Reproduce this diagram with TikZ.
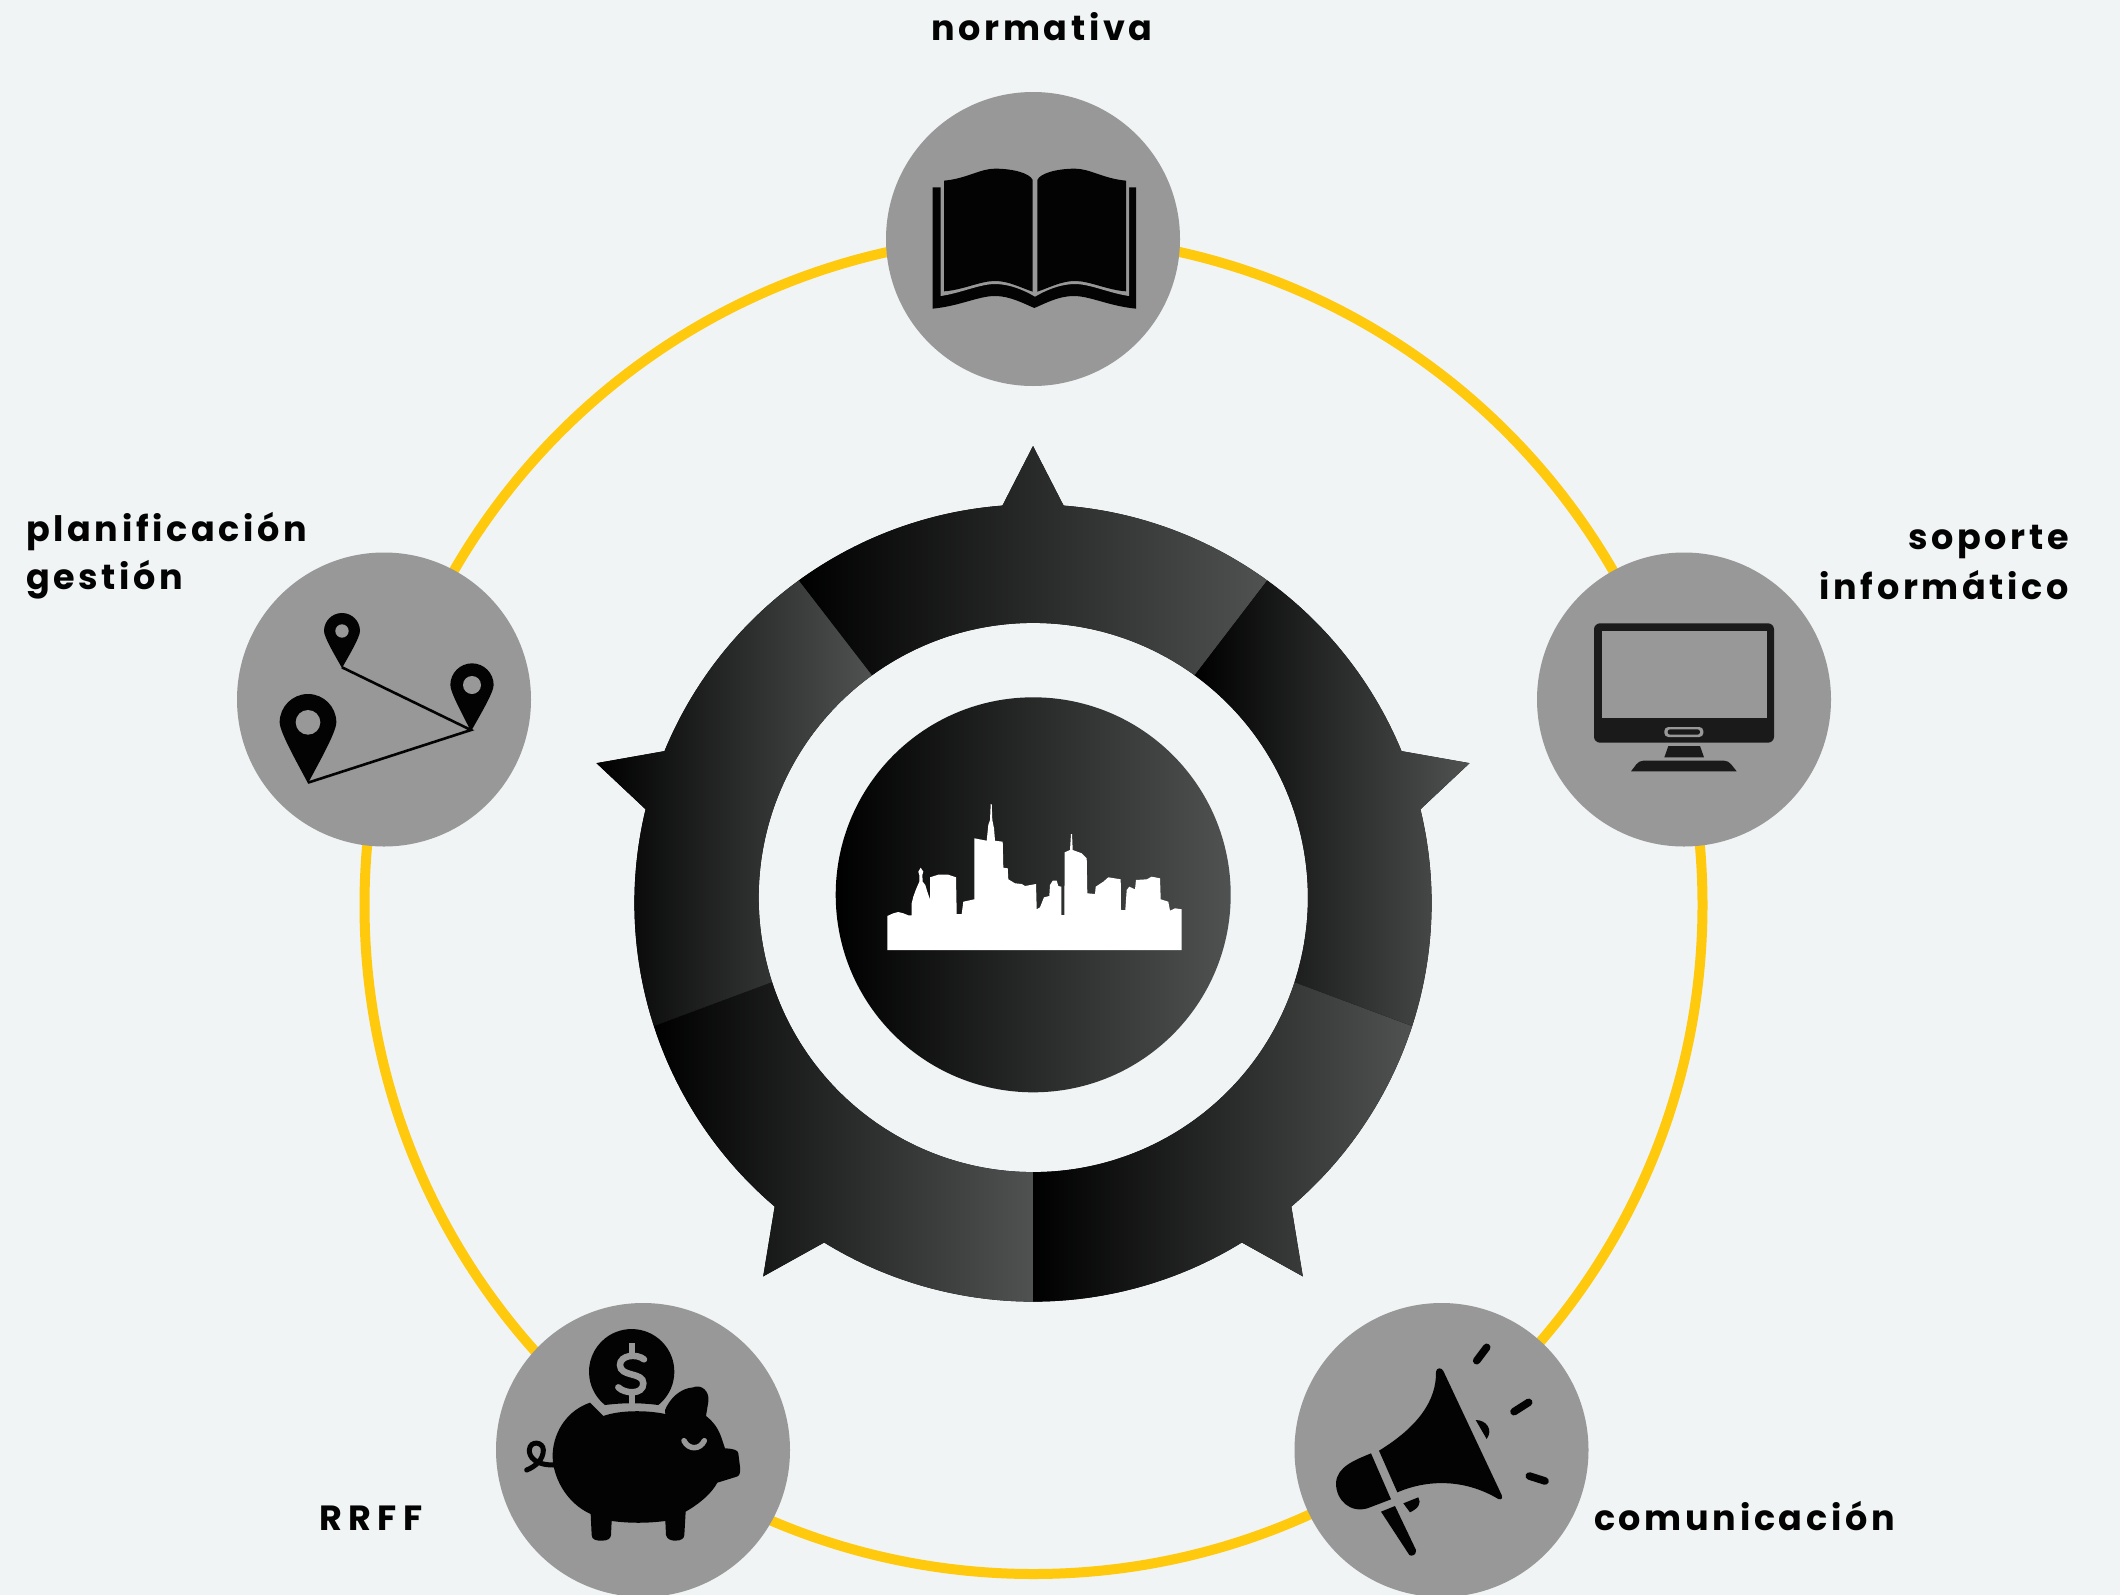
\documentclass[tikz,border=0pt]{standalone}
\usepackage{fontspec}
\setmainfont{Poppins}
\newfontfamily\labfont[LetterSpace=10.5,BoldFont={Poppins Bold}]{Poppins}
\newfontfamily\labwide[LetterSpace=19,BoldFont={Poppins Bold}]{Poppins}
\usetikzlibrary{calc}
\definecolor{bgc}{HTML}{F0F4F5}
\definecolor{hubgray}{HTML}{989898}
\definecolor{ringyellow}{HTML}{FFC90E}
\definecolor{monblack}{HTML}{1A1A1A}
\definecolor{iconblack}{HTML}{030303}
\definecolor{gradend}{HTML}{505252}
\tikzset{
  hub/.style={circle,fill=hubgray,minimum size=294pt,inner sep=0pt,outer sep=0pt},
  lab/.style={font=\labfont\bfseries\fontsize{35}{50}\selectfont,text=iconblack,inner sep=0pt,outer sep=0pt},
  iconscope/.style={x=0.33333pt,y=-0.33333pt},
  dash stroke/.style={draw=iconblack,line width=7.6pt,line cap=round},
}
\newcommand{\mappin}[6]{% cx cy R tipx tipy hole
  \pgfmathsetmacro{\pxa}{#1-#3}
  \pgfmathsetmacro{\pxb}{#1+#3}
  \pgfmathsetmacro{\pya}{#2+0.35*#3}
  \pgfmathsetmacro{\pcl}{#4+0.4*(#1-0.88*#3-#4)}
  \pgfmathsetmacro{\pcr}{#4+0.4*(#1+0.88*#3-#4)}
  \pgfmathsetmacro{\pyb}{#5+0.4*(#2+0.47*#3-#5)}
  \fill[iconblack] (\pxa,#2) arc[start angle=180,end angle=360,radius=#3]
     .. controls (\pxb,\pya) and (\pcr,\pyb) .. (#4,#5)
     .. controls (\pcl,\pyb) and (\pxa,\pya) .. (\pxa,#2) -- cycle;
  \fill[hubgray] (#1,#2) circle[radius=#6];
}
\begin{document}
\begin{tikzpicture}[x=1pt,y=-1pt]
\useasboundingbox (0,0) rectangle (2120,1595);
\fill[bgc] (0,0) rectangle (2120,1595);
% yellow ring
\coordinate (ringc) at (1033.5,905);
\draw[ringyellow,line width=10pt] (ringc) circle[radius=669];
% hubs
\node[hub] (hubtop) at (1033,239) {};
\node[hub] (hubleft) at (384,699.5) {};
\node[hub] (hubright) at (1684,699.5) {};
\node[hub] (hubbl) at (643,1450) {};
\node[hub] (hubbr) at (1441.5,1450) {};
% labels
\node[lab,anchor=base] (labtop) at (1042,41) {normativa};
\node[lab,anchor=north west,align=left] (lableft) at (26,512) {planificación\\[-2pt]gestión};
\node[lab,anchor=north east,align=right] (labright) at (2069,525) {soporte\\informático};
\node[lab,font=\labwide\bfseries\fontsize{35}{50}\selectfont,anchor=base west] (labbl) at (319,1530) {RRFF};
\node[lab,anchor=base west] (labbr) at (1594,1530) {comunicación};
% gear ring
\coordinate (O) at (1033,903);
\coordinate (I) at (1033.3,897.5);
\coordinate (T) at (1033,905);
\newcommand{\ROut}{398.6}\newcommand{\RIn}{274.6}\newcommand{\RTip}{459}\newcommand{\Sp}{4.4}
% segments: start angle a, spike at a+36, end a+72
\newcommand{\seg}[1]{%
  \pgfmathsetmacro{\segb}{#1+72}
  \pgfmathsetmacro{\segm}{#1+36}
  \pgfmathsetmacro{\sega}{#1+36-\Sp}
  \pgfmathsetmacro{\segc}{#1+36+\Sp}
  \fill[left color=black,right color=gradend]
    ($(O)+(#1:\ROut)$) arc[start angle=#1,end angle=\sega,radius=\ROut]
    -- ($(T)+(\segm:\RTip)$) -- ($(O)+(\segc:\ROut)$)
    arc[start angle=\segc,end angle=\segb,radius=\ROut]
    -- ($(I)+(\segb:\RIn)$)
    arc[start angle=\segb,end angle=#1,radius=\RIn] -- cycle;
}
\seg{234}
\seg{162}
\seg{306}
\seg{90}
\seg{18}
% centre disc
\node[circle,minimum size=395pt,inner sep=0pt,outer sep=0pt,left color=black,right color=gradend] (disc) at (1033.2,894.8) {};
% skyline (picture coordinates)
\fill[white] (887.3,950)--(887.3,916)--(893.3,913.3)--(898.3,912)--(903.3,913.3)--(908.3,915.3)--(911.7,915.3)--(911.7,903.3)--(913.3,896.7)--(916,889.3)--(918.3,884)--(919.3,881.7)--(919.3,875)--(918.3,871.7)--(920.7,867.7)--(923.3,871.7)--(922.3,875)--(922.7,881.7)--(925.3,885)--(927.3,891.7)--(930,899.3)--(930,877.3)--(938.3,874.7)--(948.3,874.7)--(956,877.3)--(956.7,914)--(961.7,914)--(963.3,901.7)--(974.3,899.3)--(974.3,838.3)--(986.7,840.7)--(988.3,825)--(990,820)--(990.7,804)--(991.7,804)--(992.3,820)--(994,828.3)--(995,840.7)--(1002.7,841.7)--(1003.3,867.7)--(1007.7,868.3)--(1008.3,879.3)--(1015,883.3)--(1021.7,884)--(1025,886)--(1036,884)--(1036.7,909.3)--(1040,907.3)--(1044,897.3)--(1049.3,896)--(1050,885)--(1052.7,880.7)--(1056.7,880.7)--(1058.3,886)--(1061.3,886.7)--(1061.3,915)--(1064.3,915)--(1064.7,852.3)--(1070,850)--(1071,834)--(1072,834)--(1072.7,850)--(1081.7,853.3)--(1086.7,858.3)--(1087.3,893.3)--(1095,894)--(1095.7,886.7)--(1103.3,881.7)--(1108.3,877.3)--(1120.7,879.3)--(1121,910)--(1125.3,910)--(1126.7,890)--(1129.3,886.7)--(1135,889.3)--(1136,880)--(1146.7,879.3)--(1151.7,876.7)--(1160,878.3)--(1160.7,899.3)--(1168.3,901.7)--(1170,910.7)--(1175,908.3)--(1181.7,909.3)--(1181.7,950)--cycle;
% book
\begin{scope}[shift={(860,80)},iconscope]
\fill[iconblack] (218,322)--(218,686) .. controls (300,678) and (355,648) .. (405,648) .. controls (450,648) and (490,670) .. (523,684) .. controls (556,670) and (596,648) .. (641,648) .. controls (691,648) and (746,678) .. (828,686) -- (828,322) -- cycle;
\fill[hubgray] (242,295)--(242,648) .. controls (300,640) and (360,612) .. (405,612) .. controls (450,612) and (495,632) .. (525,650) .. controls (555,632) and (600,612) .. (645,612) .. controls (690,612) and (750,640) .. (807,648) -- (807,295) -- cycle;
\fill[iconblack] (252,302) .. controls (320,296) and (360,266) .. (405,266) .. controls (460,266) and (510,280) .. (518,300) -- (518,635) .. controls (480,622) and (445,603) .. (405,603) .. controls (360,603) and (310,630) .. (252,634) -- cycle;
\fill[iconblack] (798,302) .. controls (730,296) and (690,266) .. (645,266) .. controls (590,266) and (540,280) .. (532,300) -- (532,635) .. controls (570,622) and (605,603) .. (645,603) .. controls (690,603) and (740,630) .. (798,634) -- cycle;
\end{scope}
% map pins
\begin{scope}[shift={(220,540)},iconscope]
\mappin{264}{547}{85}{264}{730}{37}
\mappin{756}{435}{65}{753}{574}{27}
\mappin{366}{273}{54}{366}{384}{20}
\coordinate (pina) at (366,382);
\coordinate (pinb) at (753,570);
\coordinate (pinc) at (264,728);
\draw[iconblack,line width=2.6pt] (pina) -- (pinb) -- (pinc);
\end{scope}
% monitor
\begin{scope}[shift={(1520,540)},iconscope]
\fill[monblack,rounded corners=6pt] (222,250) rectangle (762,608);
\fill[hubgray] (246,272) rectangle (740,534);
\fill[hubgray,rounded corners=4pt] (433,561) rectangle (550,591);
\fill[monblack,rounded corners=2.5pt] (443,568) rectangle (540,584);
\fill[monblack] (445,618)--(540,618)--(552,652)--(433,652)--cycle;
\fill[monblack] (333,694) .. controls (345,680) and (352,662) .. (370,662) -- (612,662) .. controls (630,662) and (638,680) .. (650,694) -- cycle;
\end{scope}
% piggy bank
\begin{scope}[shift={(480,1290)},iconscope]
\fill[iconblack] (375,345) .. controls (430,338) and (480,338) .. (535,345) arc[start angle=51.3,end angle=-231.3,radius=128] -- cycle;
\draw[hubgray,line width=6.5pt,line cap=round] (492,208) .. controls (470,190) and (420,195) .. (420,225) .. controls (420,262) and (490,245) .. (490,280) .. controls (490,315) and (435,312) .. (415,292);
\draw[hubgray,line width=6pt] (455,160)--(455,190) (455,305)--(455,345);
\fill[iconblack] (330,338) .. controls (265,360) and (222,420) .. (218,490) .. controls (215,560) and (260,640) .. (332,672) -- (335,735) .. controls (335,750) and (350,752) .. (365,752) .. controls (385,752) and (392,745) .. (393,735) -- (395,693) .. controls (450,700) and (500,700) .. (556,693) -- (558,735) .. controls (560,748) and (575,752) .. (585,752) .. controls (605,752) and (612,745) .. (613,735) -- (617,665) .. controls (660,640) and (695,610) .. (712,578) -- (770,560) .. controls (778,558) and (782,550) .. (780,530) -- (775,490) .. controls (774,480) and (760,476) .. (735,475) -- (725,445) .. controls (715,415) and (700,395) .. (678,378) -- (685,335) .. controls (690,300) and (660,282) .. (640,292) .. controls (600,295) and (570,325) .. (555,360) -- (556,372) .. controls (500,360) and (420,360) .. (370,378) -- cycle;
\draw[hubgray,line width=5.5pt,line cap=round] (612,452) .. controls (625,480) and (660,480) .. (673,452);
\draw[iconblack,line width=5pt,line cap=round] (140,540) .. controls (165,530) and (190,510) .. (190,480) .. controls (190,455) and (150,450) .. (148,480) .. controls (147,500) and (165,525) .. (220,525);
\end{scope}
% megaphone
\begin{scope}[shift={(1280,1290)},iconscope]
\fill[iconblack] (468,245) .. controls (470,330) and (415,410) .. (297,482) -- (352,607) .. controls (450,565) and (560,570) .. (655,627) .. controls (665,630) and (668,625) .. (665,615) -- (490,243) .. controls (485,232) and (470,232) .. (468,245) -- cycle;
\fill[iconblack] (273,490) .. controls (225,510) and (170,530) .. (168,580) .. controls (168,630) and (210,670) .. (262,655) -- (333,628) -- cycle;
\fill[iconblack] (303,665) -- (345,648) -- (408,780) .. controls (410,795) and (395,800) .. (388,795) -- cycle;
\fill[iconblack] (370,640) -- (415,622) .. controls (425,640) and (415,655) .. (390,667) -- cycle;
\fill[iconblack] (587,390) .. controls (620,390) and (640,420) .. (620,447) -- cycle;
\draw[dash stroke] (590,212)--(620,172);
\draw[dash stroke] (702,365)--(746,337);
\draw[dash stroke] (748,558)--(795,573);
\end{scope}
\end{tikzpicture}
\end{document}
